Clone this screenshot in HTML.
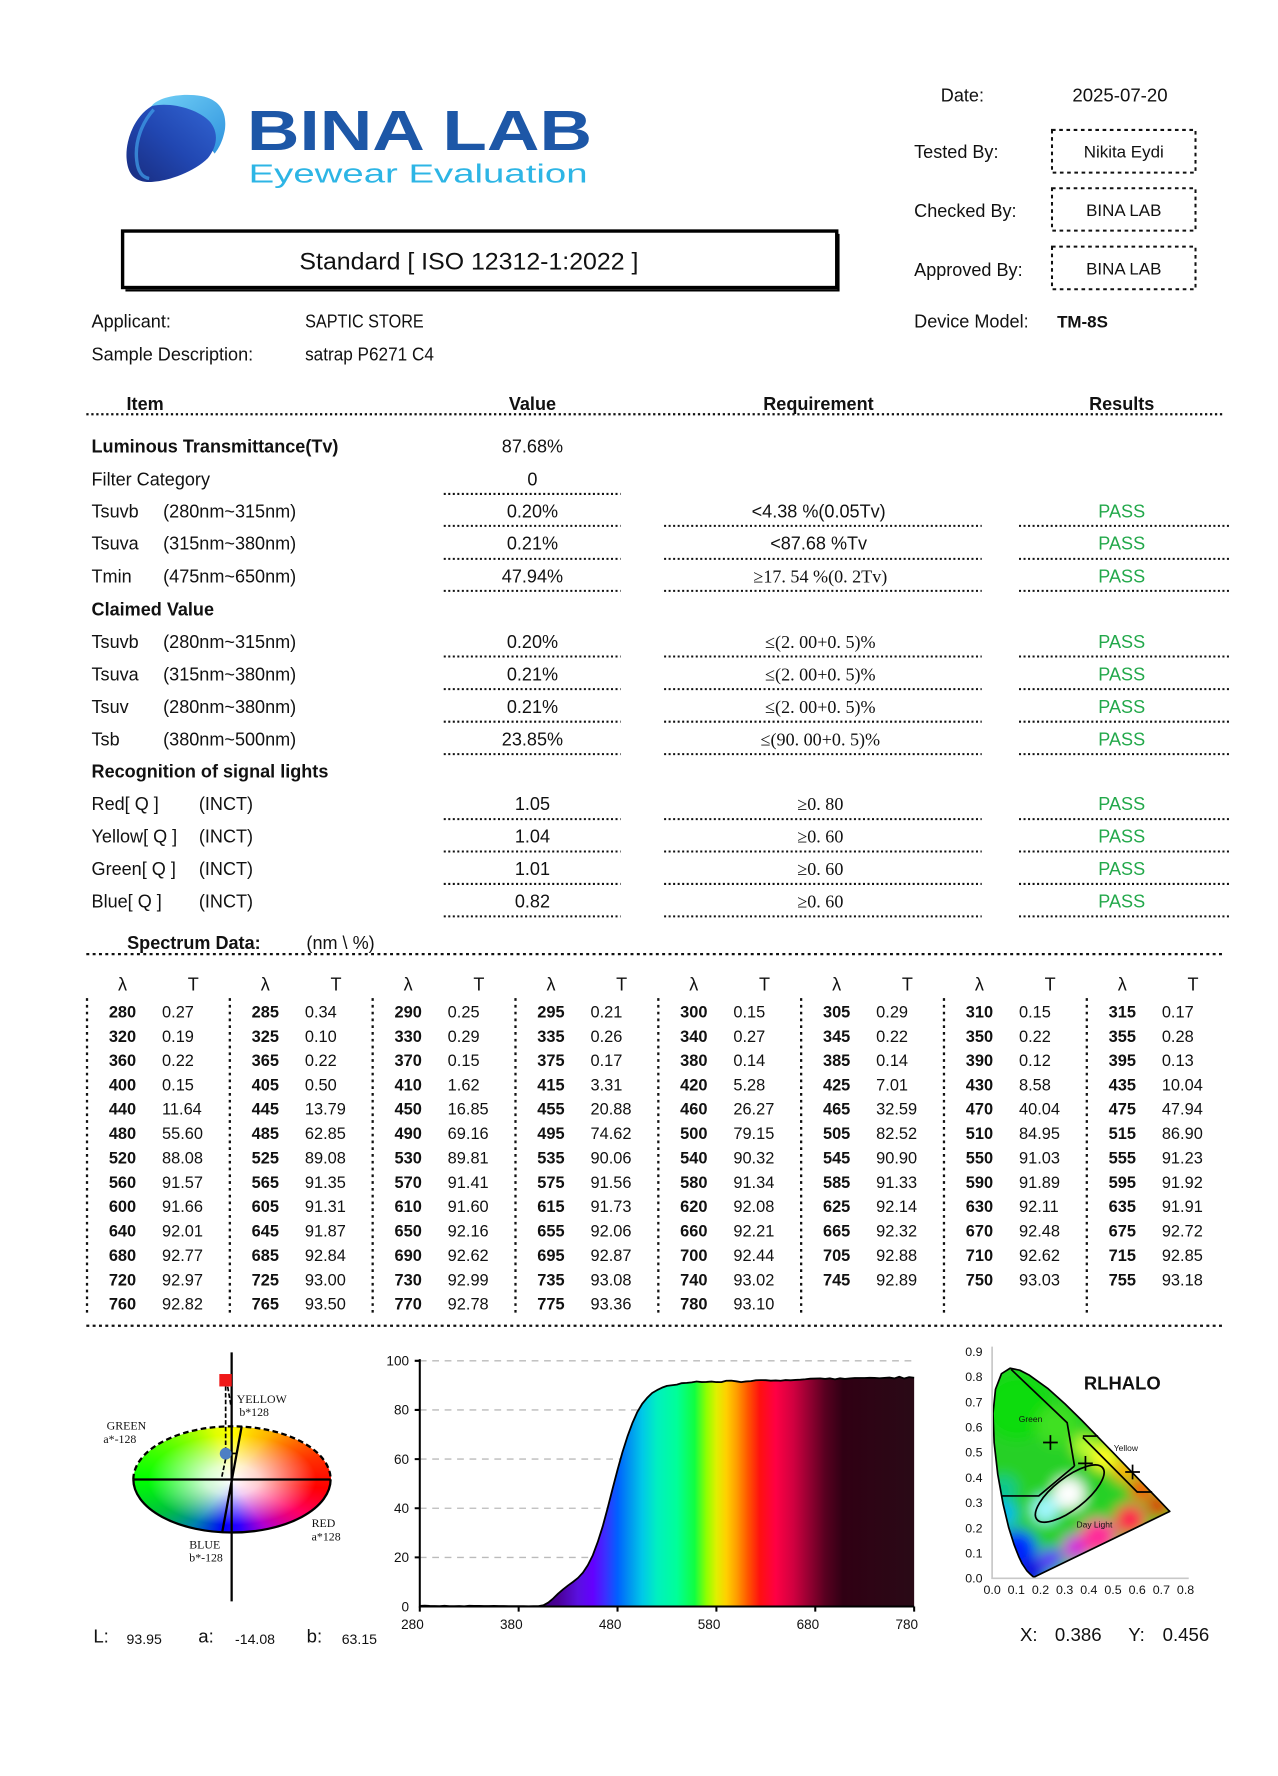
<!DOCTYPE html>
<html><head><meta charset="utf-8">
<style>
body{margin:0;background:#fff}
#page{position:relative;width:1278px;height:1776px;overflow:hidden;background:#fff}
#inner{position:absolute;left:0;top:0;width:1131px;height:1572px;transform:scale(1.12997,1.12977);transform-origin:0 0}
#lab{position:absolute;left:118px;top:1262.5px;width:174.6px;height:94px;border-radius:50%;
background:radial-gradient(closest-side, rgba(255,255,255,1) 0%, rgba(255,255,255,.8) 28%, rgba(255,255,255,0) 85%),
conic-gradient(from 0deg, #ffff00 0deg, #ffb000 40deg, #ff3000 75deg, #ff0000 95deg, #ff0060 115deg, #b000d0 145deg, #3000ff 170deg, #0000ff 190deg, #0080b0 220deg, #00c040 245deg, #00ff00 270deg, #70ff00 305deg, #e0ff00 340deg, #ffff00 360deg);}
svg{position:absolute;left:0;top:0}
text{font-family:"Liberation Sans",Arial,sans-serif;fill:#111}
.b{font-weight:bold}
.s{font-family:"Liberation Serif","DejaVu Serif",serif}
.p{fill:#22a84a}
</style></head><body>
<div id="page"><div id="inner">
<div id="lab"></div>
<svg width="1131" height="1572" viewBox="0 0 1131 1572">
<defs>
<linearGradient id="gL" x1="0" y1="0" x2="1" y2="1"><stop offset="0" stop-color="#72d0f6"/><stop offset="1" stop-color="#2e92de"/></linearGradient>
<linearGradient id="gD" x1="0.9" y1="0.1" x2="0.1" y2="0.9"><stop offset="0" stop-color="#2f5fcc"/><stop offset=".5" stop-color="#2147b2"/><stop offset="1" stop-color="#1a3188"/></linearGradient>
<linearGradient id="spec" gradientUnits="userSpaceOnUse" x1="280" y1="0" x2="780" y2="0">
<stop offset="0" stop-color="#3c0078"/><stop offset=".24" stop-color="#3c0078"/><stop offset=".28" stop-color="#4a0098"/>
<stop offset=".32" stop-color="#5a10e0"/><stop offset=".35" stop-color="#6400ff"/><stop offset=".376" stop-color="#3a30ff"/>
<stop offset=".40" stop-color="#0060ff"/><stop offset=".426" stop-color="#0098f0"/><stop offset=".45" stop-color="#00c8e8"/>
<stop offset=".48" stop-color="#00f0c0"/><stop offset=".52" stop-color="#00ff98"/><stop offset=".556" stop-color="#10ff40"/>
<stop offset=".58" stop-color="#90ff00"/><stop offset=".60" stop-color="#e0f000"/><stop offset=".62" stop-color="#ffd000"/>
<stop offset=".64" stop-color="#ffa000"/><stop offset=".664" stop-color="#ff5500"/><stop offset=".688" stop-color="#ff1010"/>
<stop offset=".72" stop-color="#ff0044"/><stop offset=".756" stop-color="#d00040"/><stop offset=".79" stop-color="#900030"/>
<stop offset=".82" stop-color="#580020"/><stop offset=".856" stop-color="#300014"/><stop offset="1" stop-color="#2a0a16"/>
</linearGradient>
<clipPath id="locus"><path d="M915.3,1395.9 L914.7,1395.9 913.2,1394.6 911.5,1393.1 908.8,1390.4 904.6,1384.1 901.5,1377.6 897.5,1367.4 892.7,1352.2 887.7,1331.2 883.0,1305.0 879.8,1276.9 878.8,1251.0 881.0,1229.7 886.3,1215.9 893.9,1211.1 902.4,1212.8 911.1,1217.3 927.1,1228.8 942.5,1242.6 957.8,1257.7 973.0,1273.3 987.7,1288.5 1001.1,1302.4 1012.2,1313.9 1020.5,1322.5 1026.0,1328.2 1031.9,1334.4 1034.2,1336.8 1035.2,1337.8 Z"/></clipPath>
<filter id="blur" x="-20%" y="-20%" width="140%" height="140%"><feGaussianBlur stdDeviation="6"/></filter>
</defs>

<!-- Logo -->
<path d="M134,94 C140,86 160,82 178,85 C195,88 201,100 199,115 C197,126 193,132 190,136 L170,110 Z" fill="url(#gL)"/>
<path d="M134,94 C150,90 175,96 186,108 C194,118 192,130 184,140 C172,152 150,160 135,161 C120,162 113,155 112,140 C111,125 118,104 134,94 Z" fill="url(#gD)"/>
<path d="M136,97 C126,108 119,125 121,142 C122,152 126,157 132,158" fill="none" stroke="#3f9be6" stroke-width="3" opacity=".75"/>
<text class="b" x="218.5" y="132.7" font-size="50" textLength="305.5" lengthAdjust="spacingAndGlyphs" style="fill:#1d57a7">BINA LAB</text>
<text x="220" y="161.4" font-size="23" textLength="300" lengthAdjust="spacingAndGlyphs" style="fill:#2db5e5">Eyewear Evaluation</text>

<!-- Standard box -->
<rect x="108.5" y="204.5" width="632" height="50" fill="none" stroke="#000" stroke-width="3"/>
<path d="M742,207 V257 H111" fill="none" stroke="#000" stroke-width="2"/>
<text x="265" y="238.5" font-size="21.5" textLength="300" lengthAdjust="spacingAndGlyphs">Standard [ ISO 12312-1:2022 ]</text>

<!-- Right info -->
<text x="832.6" y="89.8" font-size="16">Date:</text>
<text x="949" y="89.8" font-size="16.5">2025-07-20</text>
<text x="809" y="140" font-size="16">Tested By:</text>
<text x="809" y="192.2" font-size="16">Checked By:</text>
<text x="809" y="244.1" font-size="16">Approved By:</text>
<text x="809" y="290" font-size="16">Device Model:</text>
<text class="b" x="935.5" y="290" font-size="15">TM-8S</text>
<g fill="none" stroke="#111" stroke-width="1.8" stroke-dasharray="3.2 3.2">
<rect x="931" y="115" width="127" height="37.8"/>
<rect x="931" y="166.6" width="127" height="37.5"/>
<rect x="931" y="218.3" width="127" height="37.7"/>
</g>
<g text-anchor="middle" font-size="15">
<text x="994.5" y="139.5">Nikita Eydi</text>
<text x="994.5" y="191">BINA LAB</text>
<text x="994.5" y="242.8">BINA LAB</text>
</g>

<!-- Applicant -->
<text x="81" y="290" font-size="16">Applicant:</text>
<text x="81" y="319" font-size="16">Sample Description:</text>
<text x="270" y="290" font-size="16" textLength="105" lengthAdjust="spacingAndGlyphs">SAPTIC STORE</text>
<text x="270" y="319" font-size="16" textLength="114" lengthAdjust="spacingAndGlyphs">satrap P6271 C4</text>

<!-- Table header -->
<text class="b" x="112" y="362.8" font-size="16">Item</text>
<g text-anchor="middle" class="b">
<text class="b" x="471.2" y="362.8" font-size="16">Value</text>
<text class="b" x="724.3" y="362.8" font-size="16">Requirement</text>
<text class="b" x="992.7" y="362.8" font-size="16">Results</text>
</g>
<path d="M76.4,366.7H1084" stroke="#111" stroke-width="2" stroke-dasharray="2 2.4"/>

<!-- Rows left labels -->
<g font-size="16">
<text class="b" x="81" y="400.5">Luminous Transmittance(Tv)</text>
<text x="81" y="429.7">Filter Category</text>
<text x="81" y="458">Tsuvb</text><text x="144.4" y="458">(280nm~315nm)</text>
<text x="81" y="486.6">Tsuva</text><text x="144.4" y="486.6">(315nm~380nm)</text>
<text x="81" y="515.5">Tmin</text><text x="144.4" y="515.5">(475nm~650nm)</text>
<text class="b" x="81" y="545">Claimed Value</text>
<text x="81" y="573.6">Tsuvb</text><text x="144.4" y="573.6">(280nm~315nm)</text>
<text x="81" y="602.3">Tsuva</text><text x="144.4" y="602.3">(315nm~380nm)</text>
<text x="81" y="631">Tsuv</text><text x="144.4" y="631">(280nm~380nm)</text>
<text x="81" y="659.7">Tsb</text><text x="144.4" y="659.7">(380nm~500nm)</text>
<text class="b" x="81" y="688.4">Recognition of signal lights</text>
<text x="81" y="717.1">Red[ Q ]</text><text x="176" y="717.1">(INCT)</text>
<text x="81" y="745.8">Yellow[ Q ]</text><text x="176" y="745.8">(INCT)</text>
<text x="81" y="774.5">Green[ Q ]</text><text x="176" y="774.5">(INCT)</text>
<text x="81" y="803.2">Blue[ Q ]</text><text x="176" y="803.2">(INCT)</text>
</g>

<!-- Values -->
<g font-size="16" text-anchor="middle">
<text x="471.2" y="400.5">87.68%</text>
<text x="471.2" y="429.7">0</text>
<text x="471.2" y="458">0.20%</text>
<text x="471.2" y="486.6">0.21%</text>
<text x="471.2" y="515.5">47.94%</text>
<text x="471.2" y="573.6">0.20%</text>
<text x="471.2" y="602.3">0.21%</text>
<text x="471.2" y="631">0.21%</text>
<text x="471.2" y="659.7">23.85%</text>
<text x="471.2" y="717.1">1.05</text>
<text x="471.2" y="745.8">1.04</text>
<text x="471.2" y="774.5">1.01</text>
<text x="471.2" y="803.2">0.82</text>
<!-- Requirements -->
<text x="724.5" y="458">&lt;4.38 %(0.05Tv)</text>
<text x="724.5" y="486.6">&lt;87.68 %Tv</text>
<text class="s" x="726" y="515.5">≥17. 54 %(0. 2Tv)</text>
<text class="s" x="726" y="573.6">≤(2. 00+0. 5)%</text>
<text class="s" x="726" y="602.3">≤(2. 00+0. 5)%</text>
<text class="s" x="726" y="631">≤(2. 00+0. 5)%</text>
<text class="s" x="726" y="659.7">≤(90. 00+0. 5)%</text>
<text class="s" x="726" y="717.1">≥0. 80</text>
<text class="s" x="726" y="745.8">≥0. 60</text>
<text class="s" x="726" y="774.5">≥0. 60</text>
<text class="s" x="726" y="803.2">≥0. 60</text>
<!-- Results -->
<text class="p" x="992.7" y="458">PASS</text>
<text class="p" x="992.7" y="486.6">PASS</text>
<text class="p" x="992.7" y="515.5">PASS</text>
<text class="p" x="992.7" y="573.6">PASS</text>
<text class="p" x="992.7" y="602.3">PASS</text>
<text class="p" x="992.7" y="631">PASS</text>
<text class="p" x="992.7" y="659.7">PASS</text>
<text class="p" x="992.7" y="717.1">PASS</text>
<text class="p" x="992.7" y="745.8">PASS</text>
<text class="p" x="992.7" y="774.5">PASS</text>
<text class="p" x="992.7" y="803.2">PASS</text>
</g>

<!-- Row dotted lines -->
<g stroke="#111" stroke-width="1.8" stroke-dasharray="1.8 2.2" fill="none">
<path d="M392.7,437.2H549.2 M392.7,465.5H549.2 M392.7,494.7H549.2 M392.7,523H549.2 M392.7,581.1H549.2 M392.7,610H549.2 M392.7,638.8H549.2 M392.7,667.5H549.2 M392.7,725H549.2 M392.7,753.7H549.2 M392.7,782.4H549.2 M392.7,811.1H549.2"/>
<path d="M587.7,465.5H868.8 M587.7,494.7H868.8 M587.7,523H868.8 M587.7,581.1H868.8 M587.7,610H868.8 M587.7,638.8H868.8 M587.7,667.5H868.8 M587.7,725H868.8 M587.7,753.7H868.8 M587.7,782.4H868.8 M587.7,811.1H868.8"/>
<path d="M901.8,465.5H1088 M901.8,494.7H1088 M901.8,523H1088 M901.8,581.1H1088 M901.8,610H1088 M901.8,638.8H1088 M901.8,667.5H1088 M901.8,725H1088 M901.8,753.7H1088 M901.8,782.4H1088 M901.8,811.1H1088"/>
</g>

<!-- Spectrum data -->
<text class="b" x="112.5" y="840" font-size="16">Spectrum Data:</text>
<text x="271.2" y="840" font-size="16">(nm \  %)</text>
<g stroke="#111" stroke-width="2" stroke-dasharray="2.6 3" fill="none">
<path d="M76.4,844.5H1084 M76.4,1173.5H1084"/>
</g>
<g stroke="#111" stroke-width="2" stroke-dasharray="2.4 3.6" fill="none">
<path d="M77,883.5V1163.7 M203.4,883.5V1163.7 M329.8,883.5V1163.7 M456.2,883.5V1163.7 M582.6,883.5V1163.7 M709,883.5V1163.7 M835.4,883.5V1163.7 M961.8,883.5V1163.7"/>
</g>
<text font-size="16" text-anchor="middle" y="876.6"><tspan x="108.4">λ</tspan><tspan x="171">T</tspan><tspan x="234.8">λ</tspan><tspan x="297.4">T</tspan><tspan x="361.2">λ</tspan><tspan x="423.8">T</tspan><tspan x="487.6">λ</tspan><tspan x="550.2">T</tspan><tspan x="614">λ</tspan><tspan x="676.6">T</tspan><tspan x="740.4">λ</tspan><tspan x="803">T</tspan><tspan x="866.8">λ</tspan><tspan x="929.4">T</tspan><tspan x="993.2">λ</tspan><tspan x="1055.8">T</tspan></text>

<g font-size="14.5">
<text class="b" text-anchor="middle" y="900.5"><tspan x="108.4">280</tspan><tspan x="234.8">285</tspan><tspan x="361.2">290</tspan><tspan x="487.6">295</tspan><tspan x="614">300</tspan><tspan x="740.4">305</tspan><tspan x="866.8">310</tspan><tspan x="993.2">315</tspan></text>
<text y="900.5"><tspan x="143.4">0.27</tspan><tspan x="269.8">0.34</tspan><tspan x="396.2">0.25</tspan><tspan x="522.6">0.21</tspan><tspan x="649">0.15</tspan><tspan x="775.4">0.29</tspan><tspan x="901.8">0.15</tspan><tspan x="1028.2">0.17</tspan></text>

<text class="b" text-anchor="middle" y="922.1"><tspan x="108.4">320</tspan><tspan x="234.8">325</tspan><tspan x="361.2">330</tspan><tspan x="487.6">335</tspan><tspan x="614">340</tspan><tspan x="740.4">345</tspan><tspan x="866.8">350</tspan><tspan x="993.2">355</tspan></text>
<text y="922.1"><tspan x="143.4">0.19</tspan><tspan x="269.8">0.10</tspan><tspan x="396.2">0.29</tspan><tspan x="522.6">0.26</tspan><tspan x="649">0.27</tspan><tspan x="775.4">0.22</tspan><tspan x="901.8">0.22</tspan><tspan x="1028.2">0.28</tspan></text>

<text class="b" text-anchor="middle" y="943.6"><tspan x="108.4">360</tspan><tspan x="234.8">365</tspan><tspan x="361.2">370</tspan><tspan x="487.6">375</tspan><tspan x="614">380</tspan><tspan x="740.4">385</tspan><tspan x="866.8">390</tspan><tspan x="993.2">395</tspan></text>
<text y="943.6"><tspan x="143.4">0.22</tspan><tspan x="269.8">0.22</tspan><tspan x="396.2">0.15</tspan><tspan x="522.6">0.17</tspan><tspan x="649">0.14</tspan><tspan x="775.4">0.14</tspan><tspan x="901.8">0.12</tspan><tspan x="1028.2">0.13</tspan></text>

<text class="b" text-anchor="middle" y="965.2"><tspan x="108.4">400</tspan><tspan x="234.8">405</tspan><tspan x="361.2">410</tspan><tspan x="487.6">415</tspan><tspan x="614">420</tspan><tspan x="740.4">425</tspan><tspan x="866.8">430</tspan><tspan x="993.2">435</tspan></text>
<text y="965.2"><tspan x="143.4">0.15</tspan><tspan x="269.8">0.50</tspan><tspan x="396.2">1.62</tspan><tspan x="522.6">3.31</tspan><tspan x="649">5.28</tspan><tspan x="775.4">7.01</tspan><tspan x="901.8">8.58</tspan><tspan x="1028.2">10.04</tspan></text>

<text class="b" text-anchor="middle" y="986.7"><tspan x="108.4">440</tspan><tspan x="234.8">445</tspan><tspan x="361.2">450</tspan><tspan x="487.6">455</tspan><tspan x="614">460</tspan><tspan x="740.4">465</tspan><tspan x="866.8">470</tspan><tspan x="993.2">475</tspan></text>
<text y="986.7"><tspan x="143.4">11.64</tspan><tspan x="269.8">13.79</tspan><tspan x="396.2">16.85</tspan><tspan x="522.6">20.88</tspan><tspan x="649">26.27</tspan><tspan x="775.4">32.59</tspan><tspan x="901.8">40.04</tspan><tspan x="1028.2">47.94</tspan></text>

<text class="b" text-anchor="middle" y="1008.3"><tspan x="108.4">480</tspan><tspan x="234.8">485</tspan><tspan x="361.2">490</tspan><tspan x="487.6">495</tspan><tspan x="614">500</tspan><tspan x="740.4">505</tspan><tspan x="866.8">510</tspan><tspan x="993.2">515</tspan></text>
<text y="1008.3"><tspan x="143.4">55.60</tspan><tspan x="269.8">62.85</tspan><tspan x="396.2">69.16</tspan><tspan x="522.6">74.62</tspan><tspan x="649">79.15</tspan><tspan x="775.4">82.52</tspan><tspan x="901.8">84.95</tspan><tspan x="1028.2">86.90</tspan></text>

<text class="b" text-anchor="middle" y="1029.9"><tspan x="108.4">520</tspan><tspan x="234.8">525</tspan><tspan x="361.2">530</tspan><tspan x="487.6">535</tspan><tspan x="614">540</tspan><tspan x="740.4">545</tspan><tspan x="866.8">550</tspan><tspan x="993.2">555</tspan></text>
<text y="1029.9"><tspan x="143.4">88.08</tspan><tspan x="269.8">89.08</tspan><tspan x="396.2">89.81</tspan><tspan x="522.6">90.06</tspan><tspan x="649">90.32</tspan><tspan x="775.4">90.90</tspan><tspan x="901.8">91.03</tspan><tspan x="1028.2">91.23</tspan></text>

<text class="b" text-anchor="middle" y="1051.4"><tspan x="108.4">560</tspan><tspan x="234.8">565</tspan><tspan x="361.2">570</tspan><tspan x="487.6">575</tspan><tspan x="614">580</tspan><tspan x="740.4">585</tspan><tspan x="866.8">590</tspan><tspan x="993.2">595</tspan></text>
<text y="1051.4"><tspan x="143.4">91.57</tspan><tspan x="269.8">91.35</tspan><tspan x="396.2">91.41</tspan><tspan x="522.6">91.56</tspan><tspan x="649">91.34</tspan><tspan x="775.4">91.33</tspan><tspan x="901.8">91.89</tspan><tspan x="1028.2">91.92</tspan></text>

<text class="b" text-anchor="middle" y="1073"><tspan x="108.4">600</tspan><tspan x="234.8">605</tspan><tspan x="361.2">610</tspan><tspan x="487.6">615</tspan><tspan x="614">620</tspan><tspan x="740.4">625</tspan><tspan x="866.8">630</tspan><tspan x="993.2">635</tspan></text>
<text y="1073"><tspan x="143.4">91.66</tspan><tspan x="269.8">91.31</tspan><tspan x="396.2">91.60</tspan><tspan x="522.6">91.73</tspan><tspan x="649">92.08</tspan><tspan x="775.4">92.14</tspan><tspan x="901.8">92.11</tspan><tspan x="1028.2">91.91</tspan></text>

<text class="b" text-anchor="middle" y="1094.5"><tspan x="108.4">640</tspan><tspan x="234.8">645</tspan><tspan x="361.2">650</tspan><tspan x="487.6">655</tspan><tspan x="614">660</tspan><tspan x="740.4">665</tspan><tspan x="866.8">670</tspan><tspan x="993.2">675</tspan></text>
<text y="1094.5"><tspan x="143.4">92.01</tspan><tspan x="269.8">91.87</tspan><tspan x="396.2">92.16</tspan><tspan x="522.6">92.06</tspan><tspan x="649">92.21</tspan><tspan x="775.4">92.32</tspan><tspan x="901.8">92.48</tspan><tspan x="1028.2">92.72</tspan></text>

<text class="b" text-anchor="middle" y="1116.1"><tspan x="108.4">680</tspan><tspan x="234.8">685</tspan><tspan x="361.2">690</tspan><tspan x="487.6">695</tspan><tspan x="614">700</tspan><tspan x="740.4">705</tspan><tspan x="866.8">710</tspan><tspan x="993.2">715</tspan></text>
<text y="1116.1"><tspan x="143.4">92.77</tspan><tspan x="269.8">92.84</tspan><tspan x="396.2">92.62</tspan><tspan x="522.6">92.87</tspan><tspan x="649">92.44</tspan><tspan x="775.4">92.88</tspan><tspan x="901.8">92.62</tspan><tspan x="1028.2">92.85</tspan></text>

<text class="b" text-anchor="middle" y="1137.7"><tspan x="108.4">720</tspan><tspan x="234.8">725</tspan><tspan x="361.2">730</tspan><tspan x="487.6">735</tspan><tspan x="614">740</tspan><tspan x="740.4">745</tspan><tspan x="866.8">750</tspan><tspan x="993.2">755</tspan></text>
<text y="1137.7"><tspan x="143.4">92.97</tspan><tspan x="269.8">93.00</tspan><tspan x="396.2">92.99</tspan><tspan x="522.6">93.08</tspan><tspan x="649">93.02</tspan><tspan x="775.4">92.89</tspan><tspan x="901.8">93.03</tspan><tspan x="1028.2">93.18</tspan></text>

<text class="b" text-anchor="middle" y="1159.2"><tspan x="108.4">760</tspan><tspan x="234.8">765</tspan><tspan x="361.2">770</tspan><tspan x="487.6">775</tspan><tspan x="614">780</tspan></text>
<text y="1159.2"><tspan x="143.4">92.82</tspan><tspan x="269.8">93.50</tspan><tspan x="396.2">92.78</tspan><tspan x="522.6">93.36</tspan><tspan x="649">93.10</tspan></text>
</g>

<!-- CIELab chart overlay -->
<g fill="none" stroke="#000">
<path d="M118,1309.5 A87.3,47 0 0 1 292.6,1309.5" stroke-width="2" stroke-dasharray="5 3"/>
<path d="M118,1309.5 A87.3,47 0 0 0 292.6,1309.5" stroke-width="2"/>
<path d="M118,1309.6H292.6" stroke-width="2"/>
<path d="M205,1197V1417.4" stroke-width="2"/>
<path d="M213.9,1262.5L196.7,1356" stroke-width="2"/>
<path d="M205,1286.5H209.5" stroke-width="1.5"/>
<path d="M199.7,1227V1282 M201.5,1227.5L204.5,1245 M199.7,1291.4L195.9,1309.1" stroke-width="1.5" stroke-dasharray="4 2"/>
</g>
<rect x="194.1" y="1216.2" width="11" height="11" fill="#f01818"/>
<circle cx="199.7" cy="1286.7" r="5.2" fill="#4d7fc4"/>
<g class="s" font-size="10.5">
<text class="s" x="209.5" y="1241.9">YELLOW</text>
<text class="s" x="211.8" y="1253.2">b*128</text>
<text class="s" x="94.4" y="1265.5">GREEN</text>
<text class="s" x="91.5" y="1277.3">a*-128</text>
<text class="s" x="275.8" y="1351.6">RED</text>
<text class="s" x="275.8" y="1363.4">a*128</text>
<text class="s" x="167.5" y="1370.8">BLUE</text>
<text class="s" x="167.5" y="1382">b*-128</text>
</g>
<text x="82.6" y="1454" font-size="16.5">L:</text>
<text x="112" y="1455" font-size="12.5">93.95</text>
<text x="175.5" y="1454" font-size="16.5">a:</text>
<text x="208" y="1455" font-size="12.5">-14.08</text>
<text x="271.4" y="1454" font-size="16.5">b:</text>
<text x="302.4" y="1455" font-size="12.5">63.15</text>

<!-- Spectrum chart -->
<g stroke="#bbb" stroke-width="1.2" stroke-dasharray="6 5" fill="none">
<path d="M371.5,1204.5H809 M371.5,1248H809 M371.5,1291.5H809 M371.5,1335H809 M371.5,1378.5H809"/>
</g>
<g transform="translate(371.5,1422) scale(0.875,-2.175) translate(-280,0)">
<path fill="url(#spec)" d="M280,0 L280,0.27 285,0.34 290,0.25 295,0.21 300,0.15 305,0.29 310,0.15 315,0.17 320,0.19 325,0.10 330,0.29 335,0.26 340,0.27 345,0.22 350,0.22 355,0.28 360,0.22 365,0.22 370,0.15 375,0.17 380,0.14 385,0.14 390,0.12 395,0.13 400,0.15 405,0.50 410,1.62 415,3.31 420,5.28 425,7.01 430,8.58 435,10.04 440,11.64 445,13.79 450,16.85 455,20.88 460,26.27 465,32.59 470,40.04 475,47.94 480,55.60 485,62.85 490,69.16 495,74.62 500,79.15 505,82.52 510,84.95 515,86.90 520,88.08 525,89.08 530,89.81 535,90.06 540,90.32 545,90.90 550,91.03 555,91.23 560,91.57 565,91.35 570,91.41 575,91.56 580,91.34 585,91.33 590,91.89 595,91.92 600,91.66 605,91.31 610,91.60 615,91.73 620,92.08 625,92.14 630,92.11 635,91.91 640,92.01 645,91.87 650,92.16 655,92.06 660,92.21 665,92.32 670,92.48 675,92.72 680,92.77 685,92.84 690,92.62 695,92.87 700,92.44 705,92.88 710,92.62 715,92.85 720,92.97 725,93.00 730,92.99 735,93.08 740,93.02 745,92.89 750,93.03 755,93.18 760,92.82 765,93.50 770,92.78 775,93.36 780,93.10 780,0 Z"/>
<path fill="none" stroke="#000" stroke-width="1.6" vector-effect="non-scaling-stroke" stroke-linejoin="round" d="M280,0.27 L285,0.34 290,0.25 295,0.21 300,0.15 305,0.29 310,0.15 315,0.17 320,0.19 325,0.10 330,0.29 335,0.26 340,0.27 345,0.22 350,0.22 355,0.28 360,0.22 365,0.22 370,0.15 375,0.17 380,0.14 385,0.14 390,0.12 395,0.13 400,0.15 405,0.50 410,1.62 415,3.31 420,5.28 425,7.01 430,8.58 435,10.04 440,11.64 445,13.79 450,16.85 455,20.88 460,26.27 465,32.59 470,40.04 475,47.94 480,55.60 485,62.85 490,69.16 495,74.62 500,79.15 505,82.52 510,84.95 515,86.90 520,88.08 525,89.08 530,89.81 535,90.06 540,90.32 545,90.90 550,91.03 555,91.23 560,91.57 565,91.35 570,91.41 575,91.56 580,91.34 585,91.33 590,91.89 595,91.92 600,91.66 605,91.31 610,91.60 615,91.73 620,92.08 625,92.14 630,92.11 635,91.91 640,92.01 645,91.87 650,92.16 655,92.06 660,92.21 665,92.32 670,92.48 675,92.72 680,92.77 685,92.84 690,92.62 695,92.87 700,92.44 705,92.88 710,92.62 715,92.85 720,92.97 725,93.00 730,92.99 735,93.08 740,93.02 745,92.89 750,93.03 755,93.18 760,92.82 765,93.50 770,92.78 775,93.36 780,93.10"/>
</g>
<g stroke="#000" stroke-width="1.8" fill="none">
<path d="M371.5,1203V1422H809"/>
<path d="M371.5,1422v4.5 M459,1422v4.5 M546.5,1422v4.5 M634,1422v4.5 M721.5,1422v4.5 M809,1422v4.5 M367,1204.5h4.5 M367,1248h4.5 M367,1291.5h4.5 M367,1335h4.5 M367,1378.5h4.5"/>
</g>
<g font-size="12" text-anchor="end">
<text x="362" y="1208.7">100</text>
<text x="362" y="1252.2">80</text>
<text x="362" y="1295.7">60</text>
<text x="362" y="1339.2">40</text>
<text x="362" y="1382.7">20</text>
<text x="362" y="1426.2">0</text>
</g>
<g font-size="12" text-anchor="middle">
<text x="365" y="1442">280</text>
<text x="452.5" y="1442">380</text>
<text x="540" y="1442">480</text>
<text x="627.5" y="1442">580</text>
<text x="715" y="1442">680</text>
<text x="802.5" y="1442">780</text>
</g>

<!-- CIE chart -->
<g clip-path="url(#locus)">
<g filter="url(#blur)">
<rect x="860" y="1195" width="190" height="210" fill="#28d028"/>
<circle cx="900" cy="1245" r="30" fill="#10dc10"/>
<circle cx="935" cy="1262" r="18" fill="#40e020"/>
<circle cx="888" cy="1318" r="12" fill="#10c890"/>
<circle cx="888" cy="1340" r="12" fill="#00b8f0"/>
<circle cx="925" cy="1336" r="12" fill="#a0f8ff"/>
<circle cx="946" cy="1322" r="14" fill="#ffffff"/>
<circle cx="900" cy="1372" r="18" fill="#0028ff"/>
<circle cx="912" cy="1392" r="14" fill="#1010e0"/>
<circle cx="930" cy="1380" r="10" fill="#6020ff"/>
<circle cx="952" cy="1370" r="12" fill="#d020e0"/>
<circle cx="972" cy="1360" r="16" fill="#ff2a9a"/>
<circle cx="1000" cy="1345" r="14" fill="#ff2050"/>
<circle cx="1025" cy="1333" r="10" fill="#e00000"/>
<circle cx="1010" cy="1318" r="10" fill="#ff4000"/>
<circle cx="995" cy="1302" r="10" fill="#ffb000"/>
<circle cx="977" cy="1290" r="12" fill="#ffff20"/>
<circle cx="960" cy="1280" r="10" fill="#c0ff30"/>
</g>
</g>
<path d="M915.3,1395.9 L914.7,1395.9 913.2,1394.6 911.5,1393.1 908.8,1390.4 904.6,1384.1 901.5,1377.6 897.5,1367.4 892.7,1352.2 887.7,1331.2 883.0,1305.0 879.8,1276.9 878.8,1251.0 881.0,1229.7 886.3,1215.9 893.9,1211.1 902.4,1212.8 911.1,1217.3 927.1,1228.8 942.5,1242.6 957.8,1257.7 973.0,1273.3 987.7,1288.5 1001.1,1302.4 1012.2,1313.9 1020.5,1322.5 1026.0,1328.2 1031.9,1334.4 1034.2,1336.8 1035.2,1337.8 Z" fill="none" stroke="#000" stroke-width="1.5" stroke-linejoin="round"/>
<path d="M878,1192V1397H1052" fill="none" stroke="#c8c8c8" stroke-width="1.5"/>
<g fill="none" stroke="#000" stroke-width="1.5">
<path d="M894.8,1212.1 L944.4,1259.3 L950.9,1297.6 M886.9,1324.1 L919.3,1324.1 L950.9,1297.6 M958.3,1271.1 L971.8,1271.1 M958.3,1272.3 L1006.4,1320.6 L1019.6,1320.6"/>
<ellipse cx="946.7" cy="1322" rx="37" ry="14" transform="rotate(-38 946.7 1322)"/>
<path d="M923.1,1276.8h13 M929.6,1270.3v13 M954.1,1295.3h13 M960.6,1288.8v13 M995.8,1302.9h13 M1002.3,1296.4v13"/>
</g>
<g font-size="7.5">
<text x="901.6" y="1258.6">Green</text>
<text x="985.7" y="1284.3">Yellow</text>
<text x="952.7" y="1352.2">Day Light</text>
</g>
<text class="b" x="959.2" y="1229.8" font-size="16.5" textLength="68" lengthAdjust="spacingAndGlyphs">RLHALO</text>
<g font-size="11" text-anchor="end">
<text x="869.5" y="1200.2">0.9</text>
<text x="869.5" y="1222.5">0.8</text>
<text x="869.5" y="1244.8">0.7</text>
<text x="869.5" y="1267.1">0.6</text>
<text x="869.5" y="1289.4">0.5</text>
<text x="869.5" y="1311.7">0.4</text>
<text x="869.5" y="1334">0.3</text>
<text x="869.5" y="1356.3">0.2</text>
<text x="869.5" y="1378.6">0.1</text>
<text x="869.5" y="1400.9">0.0</text>
</g>
<text font-size="11" text-anchor="middle" y="1411"><tspan x="878">0.0</tspan><tspan x="899.4">0.1</tspan><tspan x="920.8">0.2</tspan><tspan x="942.2">0.3</tspan><tspan x="963.6">0.4</tspan><tspan x="985">0.5</tspan><tspan x="1006.4">0.6</tspan><tspan x="1027.8">0.7</tspan><tspan x="1049.2">0.8</tspan></text>
<text x="902.7" y="1452.5" font-size="16.5">X:</text>
<text x="933.6" y="1452.5" font-size="16.5">0.386</text>
<text x="998.5" y="1452.5" font-size="16.5">Y:</text>
<text x="1028.9" y="1452.5" font-size="16.5">0.456</text>
</svg>
</div></div>
</body></html>
